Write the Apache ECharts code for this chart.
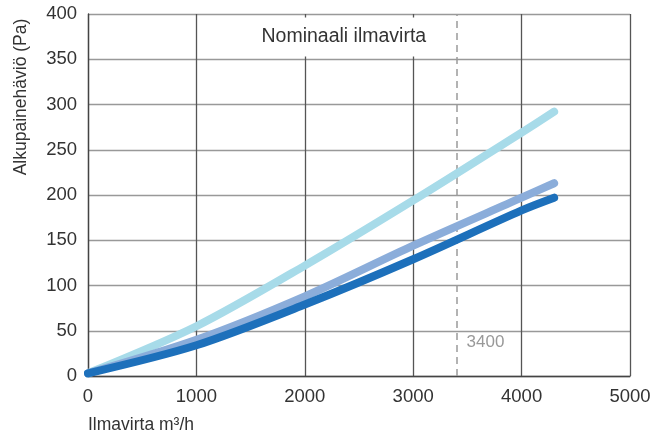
<!DOCTYPE html>
<html><head><meta charset="utf-8">
<script src="https://cdn.jsdelivr.net/npm/echarts@6/dist/echarts.min.js"></script>
<style>html,body{margin:0;padding:0;background:#fff}#c{width:668px;height:437px}</style>
</head><body><div id="c"></div>
<script>
const xValues = [0, 1000, 2000, 3000, 4000, 4300];
const lightSeries = [3, 55, 122, 194, 269, 292];
const midSeries = [3, 40, 88, 144, 197, 213];
const darkSeries = [3, 34, 79, 129, 183, 197];
const nominalFlow = 3400;
const nominalLabel = 'Nominaali ilmavirta';
const xTitle = 'Ilmavirta m³/h';
const yTitle = 'Alkupainehäviö (Pa)';

const font = '"Liberation Sans", Arial, sans-serif';
const chart = echarts.init(document.getElementById('c'));
function pts(v){ return xValues.map((x,i)=>[x, v[i]]); }
function lineSeries(data, color, extra){
  return Object.assign({
    type:'line', data: pts(data), smooth:0.3, showSymbol:false, symbol:'none',
    lineStyle:{color, width:8, cap:'round', join:'round'}, z:5
  }, extra||{});
}
chart.setOption({
  animation:false,
  grid:{left:88, right:38, top:14, bottom:61},
  xAxis:{type:'value', min:0, max:5000, interval:1000,
    axisLine:{show:true, lineStyle:{color:'#444', width:1.3}},
    axisTick:{show:false},
    axisLabel:{color:'#333', fontSize:18.5, fontFamily:font, margin:11, formatter:v=>String(v)},
    splitLine:{show:true, lineStyle:{color:'#555', width:1.3}}
  },
  yAxis:{type:'value', min:0, max:400, interval:50,
    axisLine:{show:true, lineStyle:{color:'#444', width:1.3}},
    axisTick:{show:false},
    axisLabel:{color:'#333', fontSize:18.5, fontFamily:font, margin:11, formatter:v=>String(v)},
    splitLine:{show:true, lineStyle:{color:'#999', width:1.3}}
  },
  graphic:[
    {type:'text', left:88, top:416, style:{text:xTitle, fill:'#333', font:'17.5px '+font}},
    {type:'text', x:21, y:97, rotation:Math.PI/2, style:{text:yTitle, fill:'#333', font:'17.5px '+font, textAlign:'center', textVerticalAlign:'middle'}}
  ],
  series:[
    lineSeries(lightSeries, '#a7dbe9', {
      markLine:{silent:true, symbol:'none', label:{show:false},
        lineStyle:{color:'#9a9a9a', type:[7,5], width:1.5},
        data:[{xAxis:nominalFlow}]},
      markPoint:{silent:true, symbol:'rect', symbolSize:0,
        data:[
          {coord:[nominalFlow, 37], value:String(nominalFlow),
            label:{show:true, position:'right', distance:10, formatter:String(nominalFlow), color:'#999', fontSize:17, fontFamily:font}},
          {coord:[2360, 374.6], value:nominalLabel,
            label:{show:true, position:'inside', formatter:nominalLabel, color:'#333', fontSize:19.5, fontFamily:font,
              backgroundColor:'#fff', padding:[5,8,14,8]}}
        ]}
    }),
    lineSeries(midSeries, '#8badda'),
    lineSeries(darkSeries, '#1d70bb')
  ]
});
</script></body></html>
